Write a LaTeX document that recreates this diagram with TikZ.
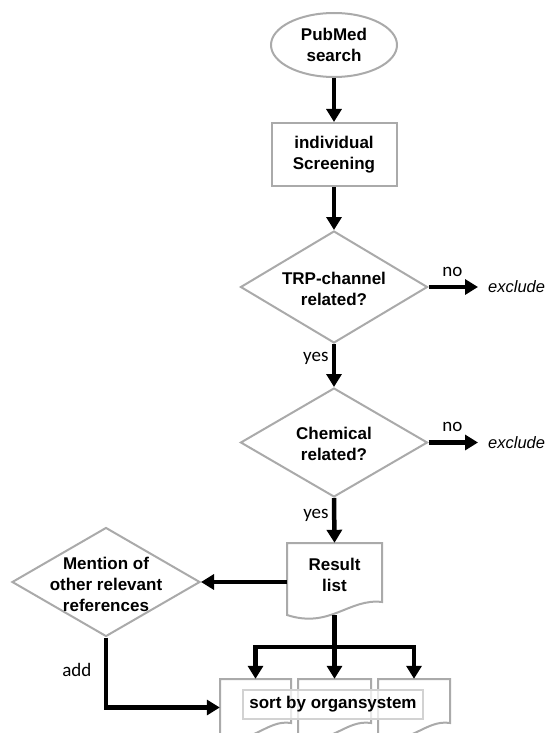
\documentclass[tikz,border=0pt]{standalone}
\usepackage{fontspec}
\setmainfont{Liberation Sans}
\newfontfamily\calfont{Carlito}
\usetikzlibrary{shapes.geometric,arrows.meta}
\definecolor{bgray}{RGB}{170,170,170}
\definecolor{lgray}{RGB}{210,210,210}
\begin{document}
\begin{tikzpicture}[x=1pt,y=-1pt,
  shapebox/.style={draw=bgray, line width=2pt, fill=white},
  boldtxt/.style={font=\fontsize{17}{20.5}\selectfont\bfseries, align=center},
  arr/.style={line width=4.5pt, line join=miter, -{Triangle[length=13pt,width=15pt]}},
  ln/.style={line width=4.5pt},
  lbl/.style={font=\calfont\fontsize{19}{22}\selectfont},
  extxt/.style={font=\fontsize{16.5}{20}\selectfont\itshape, anchor=west, inner sep=0pt},
  ]
\useasboundingbox (0,0) rectangle (550,733);
\clip (0,0) rectangle (550,733);

% start
\node[shapebox, ellipse, minimum width=126pt, minimum height=64pt, inner sep=0pt, boldtxt] (pub) at (334,45) {PubMed\\search};
\node[shapebox, rectangle, minimum width=125pt, minimum height=63pt, boldtxt] (scr) at (334,154.5) {individual\\Screening};

% decisions
\node[shapebox, diamond, minimum width=187pt, minimum height=112pt, inner sep=0pt] (d1) at (334,287) {};
\node[boldtxt] (t1) at (334,289) {TRP-channel\\related?};
\node[shapebox, diamond, minimum width=187pt, minimum height=109pt, inner sep=0pt] (d2) at (334,442.5) {};
\node[boldtxt] (t2) at (334,444) {Chemical\\related?};
\node[shapebox, diamond, minimum width=188pt, minimum height=109pt, inner sep=0pt] (d3) at (106,582) {};
\node[boldtxt, font=\fontsize{17}{21}\selectfont\bfseries] (t3) at (106,584) {Mention of\\other relevant\\references};

% exclude
\node[extxt] (ex1) at (488,287) {exclude};
\node[extxt] (ex2) at (488,442.5) {exclude};

% result list
\node[minimum width=95pt, minimum height=72pt, inner sep=0pt] (res) at (334.5,579) {};
\draw[shapebox] (287,543) -- (382,543) -- (382,602) .. controls (349,598) and (330,629) .. (287,615) -- cycle;
\node[boldtxt] (rt) at (334.5,575) {Result\\list};

% sorted documents
\node[minimum width=71pt, minimum height=57pt, inner sep=0pt] (b1) at (255.5,707.5) {};
\node[minimum width=73pt, minimum height=57pt, inner sep=0pt] (b2) at (334.5,707.5) {};
\node[minimum width=72pt, minimum height=57pt, inner sep=0pt] (b3) at (414,707.5) {};
\draw[shapebox] (220,679) -- (291,679) -- (291,723) .. controls (266,719) and (252,747) .. (220,736) -- cycle;
\draw[shapebox] (298,679) -- (371,679) -- (371,723) .. controls (345,719) and (331,747) .. (298,736) -- cycle;
\draw[shapebox] (378,679) -- (450,679) -- (450,723) .. controls (425,719) and (410,747) .. (378,736) -- cycle;
\node[draw=lgray, line width=1.5pt, fill=white, fill opacity=0.75, text opacity=1, minimum width=180pt, minimum height=29pt, inner sep=0pt, boldtxt] (sort) at (333,704.5) {sort by organsystem};

% connectors
\draw[arr] (pub.south) -- (scr.north);
\draw[arr] (scr.south) -- (d1.north);
\draw[arr, shorten >=10pt] (d1.east) -- (ex1.west) node[lbl, pos=0.4, above=5pt] {no};
\draw[arr] (d1.south) -- (d2.north) node[lbl, pos=0.33, left=0pt] {yes};
\draw[arr, shorten >=10pt] (d2.east) -- (ex2.west) node[lbl, pos=0.4, above=5pt] {no};
\draw[arr] (d2.south) -- (res.north) node[lbl, pos=0.39, left=0pt] {yes};
\draw[arr] (d3.east -| res.west) -- (d3.east);
\coordinate (j) at (334.5,647);
\draw[ln] (res.south) -- (j);
\draw[arr] (j) -| (b1.north);
\draw[arr] (j) -| (b3.north);
\draw[arr] (j) -- (b2.north);
\draw[arr] (d3.south) |- (b1.west) node[lbl, pos=0.235, left=9pt] {add};
\end{tikzpicture}
\end{document}
